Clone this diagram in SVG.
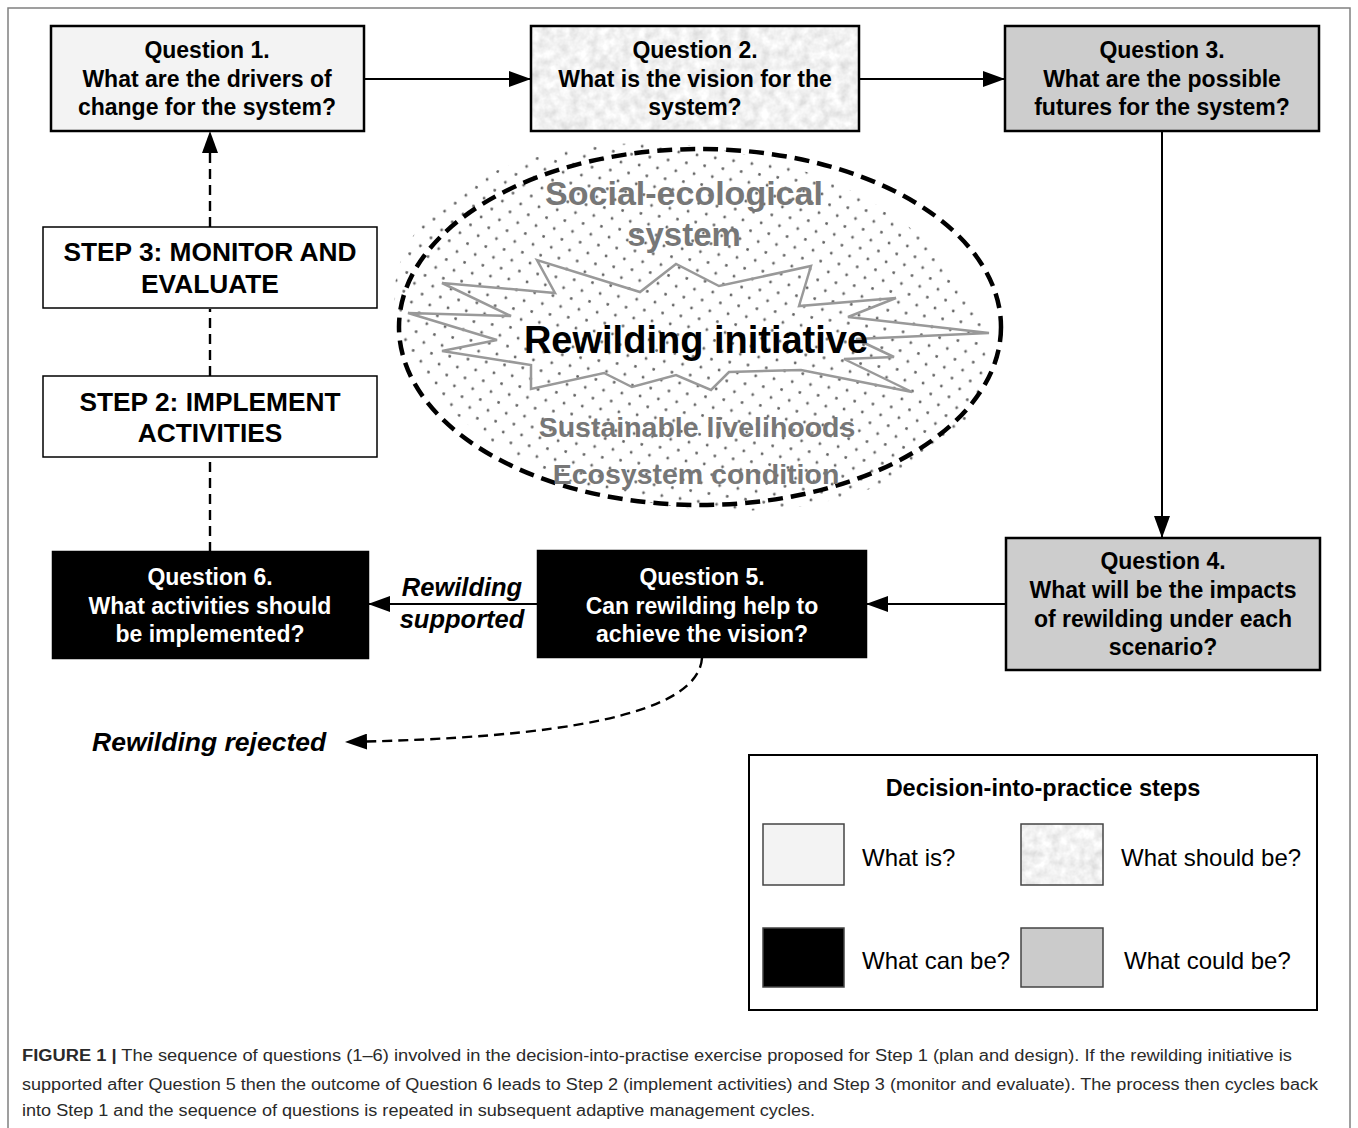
<svg xmlns="http://www.w3.org/2000/svg" width="1358" height="1128" viewBox="0 0 1358 1128">
<defs>
<style>
.box{stroke:#000;stroke-width:2.5}
.bt{font-family:"Liberation Sans",Arial,sans-serif;font-weight:bold;font-size:23px;text-anchor:middle;fill:#000}
.wt{fill:#fff}
.st{font-family:"Liberation Sans",Arial,sans-serif;font-weight:bold;font-size:26.3px;text-anchor:middle;fill:#000}
.it{font-family:"Liberation Sans",Arial,sans-serif;font-weight:bold;font-style:italic;font-size:25.5px;fill:#000}
.gt{font-family:"Liberation Sans",Arial,sans-serif;font-weight:bold;text-anchor:middle;fill:#777}
.lg{font-family:"Liberation Sans",Arial,sans-serif;font-size:24px;fill:#000}
.cap{font-family:"Liberation Sans",Arial,sans-serif;font-size:16px;fill:#2a2a2a}
.solid{fill:none;stroke:#000;stroke-width:2}
.dash{fill:none;stroke:#000;stroke-width:2.4;stroke-dasharray:10 6}
</style>
<marker id="ah" viewBox="0 0 22 16" refX="22" refY="8" markerWidth="22" markerHeight="16" markerUnits="userSpaceOnUse" orient="auto">
<path d="M0,0 L22,8 L0,16 Z" fill="#000"/>
</marker>
<pattern id="dots" width="18.5" height="19" patternUnits="userSpaceOnUse">
<circle cx="4" cy="4" r="1.4" fill="#666"/>
<circle cx="13.25" cy="13.5" r="1.4" fill="#666"/>
</pattern>
<filter id="mottle" x="0" y="0" width="100%" height="100%">
<feTurbulence type="fractalNoise" baseFrequency="0.1" numOctaves="3" seed="4"/>
<feColorMatrix type="matrix" values="0.45 0 0 0 0.66  0.45 0 0 0 0.66  0.45 0 0 0 0.66  0 0 0 0 1"/>
</filter>
</defs>
<rect width="1358" height="1128" fill="#fff"/>
<rect x="8" y="8" width="1342" height="1130" fill="none" stroke="#808080" stroke-width="1.5"/>

<g id="system">
<ellipse cx="690" cy="327" rx="298" ry="180" fill="url(#dots)" transform="rotate(9 690 327)"/>
<ellipse cx="700" cy="327" rx="301" ry="178" fill="none" stroke="#000" stroke-width="4.5" stroke-dasharray="15 8"/>
<polygon points="408,313 511,316 442,283 555,293 537,260 640,292 676,264 719,286 811,266 799,306 896,298 848,317 989,333 856,339 894,357 844,359 912,392 801,370 729,372 711,390 676,375 632,387 604,373 531,389 531,365 442,351 497,340" fill="none" stroke="#999" stroke-width="2.5"/>
<text class="gt" x="684" y="205" style="font-size:34px">Social-ecological</text>
<text class="gt" x="684" y="246" style="font-size:33px">system</text>
<text class="bt" x="696" y="353" style="font-size:38px">Rewilding initiative</text>
<text class="gt" x="697" y="437" style="font-size:28.5px">Sustainable livelihoods</text>
<text class="gt" x="696" y="484" style="font-size:28.5px">Ecosystem condition</text>
</g>

<g id="connectors">
<line class="solid" x1="364" y1="79" x2="531" y2="79" marker-end="url(#ah)"/>
<line class="solid" x1="859" y1="79" x2="1005" y2="79" marker-end="url(#ah)"/>
<line class="solid" x1="1162" y1="131" x2="1162" y2="538" marker-end="url(#ah)"/>
<line class="solid" x1="1006" y1="604" x2="866" y2="604" marker-end="url(#ah)"/>
<line class="solid" x1="538" y1="604" x2="368" y2="604" marker-end="url(#ah)"/>
<line class="dash" x1="210" y1="552" x2="210" y2="458"/>
<line class="dash" x1="210" y1="376" x2="210" y2="309"/>
<line class="dash" x1="210" y1="227" x2="210" y2="131" marker-end="url(#ah)"/>
<path class="dash" d="M702,658 C698,715 560,738 345,742" marker-end="url(#ah)"/>
<text class="it" x="462" y="596" text-anchor="middle">Rewilding</text>
<text class="it" x="462" y="628" text-anchor="middle">supported</text>
<text class="it" x="92" y="751" style="font-size:26.5px">Rewilding rejected</text>
</g>

<g id="q1">
<rect class="box" x="51" y="26" width="313" height="105" fill="#f3f3f3"/>
<text class="bt" x="207" y="58">Question 1.</text>
<text class="bt" x="207" y="87">What are the drivers of</text>
<text class="bt" x="207" y="115">change for the system?</text>
</g>

<g id="q2">
<rect x="531" y="26" width="328" height="105" fill="#e8e8e8" filter="url(#mottle)"/>
<rect class="box" x="531" y="26" width="328" height="105" fill="none"/>
<text class="bt" x="695" y="58">Question 2.</text>
<text class="bt" x="695" y="87">What is the vision for the</text>
<text class="bt" x="695" y="115">system?</text>
</g>

<g id="q3">
<rect class="box" x="1005" y="26" width="314" height="105" fill="#cdcdcd"/>
<text class="bt" x="1162" y="58">Question 3.</text>
<text class="bt" x="1162" y="87">What are the possible</text>
<text class="bt" x="1162" y="115">futures for the system?</text>
</g>

<g id="q4">
<rect class="box" x="1006" y="538" width="314" height="132" fill="#cdcdcd"/>
<text class="bt" x="1163" y="569">Question 4.</text>
<text class="bt" x="1163" y="598">What will be the impacts</text>
<text class="bt" x="1163" y="627">of rewilding under each</text>
<text class="bt" x="1163" y="655">scenario?</text>
</g>

<g id="q5">
<rect class="box" x="538" y="551" width="328" height="106" fill="#000"/>
<text class="bt wt" x="702" y="585">Question 5.</text>
<text class="bt wt" x="702" y="614">Can rewilding help to</text>
<text class="bt wt" x="702" y="642">achieve the vision?</text>
</g>

<g id="q6">
<rect class="box" x="53" y="552" width="315" height="106" fill="#000"/>
<text class="bt wt" x="210" y="585">Question 6.</text>
<text class="bt wt" x="210" y="614">What activities should</text>
<text class="bt wt" x="210" y="642">be implemented?</text>
</g>

<g id="step2">
<rect x="43" y="376" width="334" height="81" fill="#fff" stroke="#000" stroke-width="1.5"/>
<text class="st" x="210" y="411">STEP 2: IMPLEMENT</text>
<text class="st" x="210" y="442">ACTIVITIES</text>
</g>

<g id="step3">
<rect x="43" y="227" width="334" height="81" fill="#fff" stroke="#000" stroke-width="1.5"/>
<text class="st" x="210" y="261">STEP 3: MONITOR AND</text>
<text class="st" x="210" y="293">EVALUATE</text>
</g>

<g id="legend">
<rect x="749" y="755" width="568" height="255" fill="#fff" stroke="#000" stroke-width="2"/>
<text class="bt" x="1043" y="796" style="font-size:23.5px">Decision-into-practice steps</text>
<rect x="763" y="824" width="81" height="61" fill="#f3f3f3" stroke="#444" stroke-width="1.5"/>
<rect x="1021" y="824" width="82" height="61" fill="#e8e8e8" filter="url(#mottle)"/>
<rect x="1021" y="824" width="82" height="61" fill="none" stroke="#444" stroke-width="1.5"/>
<rect x="763" y="928" width="81" height="59" fill="#000" stroke="#444" stroke-width="1.5"/>
<rect x="1021" y="928" width="82" height="59" fill="#cbcbcb" stroke="#444" stroke-width="1.5"/>
<text class="lg" x="862" y="866">What is?</text>
<text class="lg" x="1121" y="866">What should be?</text>
<text class="lg" x="862" y="969">What can be?</text>
<text class="lg" x="1124" y="969">What could be?</text>
</g>

<g id="caption">
<text class="cap" x="22" y="1061" textLength="1270" lengthAdjust="spacingAndGlyphs"><tspan font-weight="bold">FIGURE 1 |</tspan> The sequence of questions (1–6) involved in the decision-into-practise exercise proposed for Step 1 (plan and design). If the rewilding initiative is</text>
<text class="cap" x="22" y="1090" textLength="1296" lengthAdjust="spacingAndGlyphs">supported after Question 5 then the outcome of Question 6 leads to Step 2 (implement activities) and Step 3 (monitor and evaluate). The process then cycles back</text>
<text class="cap" x="22" y="1116" textLength="793" lengthAdjust="spacingAndGlyphs">into Step 1 and the sequence of questions is repeated in subsequent adaptive management cycles.</text>
</g>
</svg>
